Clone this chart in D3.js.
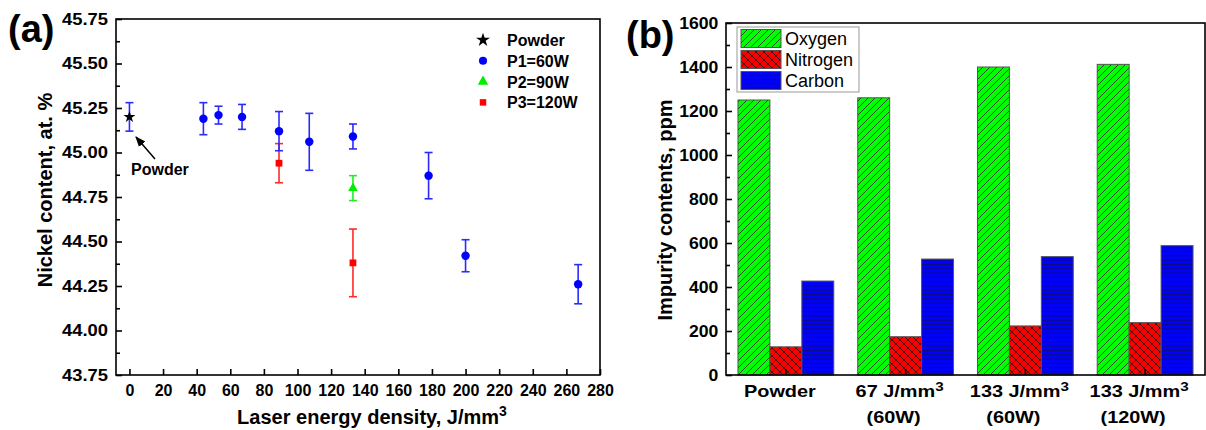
<!DOCTYPE html>
<html><head><meta charset="utf-8">
<script src="https://cdn.jsdelivr.net/npm/d3@7"></script>
<style>
body{margin:0;background:#fff;}
svg{display:block;font-family:"Liberation Sans",Arial,Helvetica,sans-serif;}
</style></head><body>
<svg id="chart" width="1206" height="430"></svg>
<script>
// ---------- Panel (a) data ----------
const xTicksA = [0,20,40,60,80,100,120,140,160,180,200,220,240,260,280];
const yTicksA = [43.75,44.00,44.25,44.50,44.75,45.00,45.25,45.50,45.75];

const powderX  = [0];
const powderY  = [45.20];
const powderLo = [45.12];
const powderHi = [45.28];

const p1X  = [44, 53, 67, 89, 107, 133, 178, 200, 267];
const p1Y  = [45.19, 45.21, 45.20, 45.12, 45.06, 45.09, 44.87, 44.42, 44.26];
const p1Lo = [45.10, 45.16, 45.13, 45.01, 44.90, 45.02, 44.74, 44.33, 44.15];
const p1Hi = [45.28, 45.26, 45.27, 45.23, 45.22, 45.16, 45.00, 44.51, 44.37];

const p2X  = [133];
const p2Y  = [44.80];
const p2Lo = [44.73];
const p2Hi = [44.87];

const p3X  = [89, 133];
const p3Y  = [44.94, 44.38];
const p3Lo = [44.83, 44.19];
const p3Hi = [45.05, 44.57];

const legendA = ["Powder", "P1=60W", "P2=90W", "P3=120W"];

// ---------- Panel (b) data ----------
const catLine1 = ["Powder", "67 J/mm", "133 J/mm", "133 J/mm"];
const catSup   = ["", "3", "3", "3"];
const catLine2 = ["", "(60W)", "(60W)", "(120W)"];
const elements = ["Oxygen", "Nitrogen", "Carbon"];
const oxygen   = [1250, 1260, 1400, 1412];
const nitrogen = [128, 174, 223, 238];
const carbon   = [427, 527, 538, 588];
const yTicksB  = [0,200,400,600,800,1000,1200,1400,1600];

// ---------- setup ----------
const svg = d3.select("#chart");
const defs = svg.append("defs");

const pg = defs.append("pattern").attr("id","hatchG").attr("patternUnits","userSpaceOnUse")
  .attr("width",7).attr("height",7);
pg.append("path").attr("d","M-1,1 l2,-2 M0,7 l7,-7 M6,8 l2,-2")
  .attr("stroke","#1e3a1e").attr("stroke-width",0.9).attr("fill","none");
const pr = defs.append("pattern").attr("id","crossR").attr("patternUnits","userSpaceOnUse")
  .attr("width",8).attr("height",8);
pr.append("path").attr("d","M0,0 L8,8 M8,0 L0,8")
  .attr("stroke","#3a1010").attr("stroke-width",0.9).attr("fill","none");
const pb = defs.append("pattern").attr("id","horizB").attr("patternUnits","userSpaceOnUse")
  .attr("width",6).attr("height",4.3);
pb.append("path").attr("d","M0,2 H6")
  .attr("stroke","#10104a").attr("stroke-width",0.8).attr("fill","none");

const A = {l:116, r:600, t:19, b:375};
const B = {l:726, r:1205, t:23, b:375};

// ---------- Panel (a) ----------
const xA = d3.scaleLinear().domain([-8, 280]).range([A.l, A.r]);
const yA = d3.scaleLinear().domain([43.75, 45.75]).range([A.b, A.t]);
const gA = svg.append("g");

const minorYA = d3.pairs(yTicksA).map(p => (p[0]+p[1])/2);

function styleAxis(g){
  g.select(".domain").remove();
  g.selectAll(".tick line").attr("stroke","#000").attr("stroke-width",1.6);
  g.selectAll("text").attr("fill","#000");
}

gA.append("g").attr("transform",`translate(${A.l},0)`)
  .call(d3.axisLeft(yA).tickValues(minorYA).tickSize(-4).tickFormat(""))
  .call(styleAxis);
const yAxA = gA.append("g").attr("transform",`translate(${A.l},0)`)
  .call(d3.axisLeft(yA).tickValues(yTicksA).tickSize(-6).tickPadding(7).tickFormat(d3.format(".2f")))
  .call(styleAxis);
yAxA.selectAll("text").attr("font-size",16).attr("font-weight","bold")
  .attr("transform","scale(1.15,1)");

const xAxA = gA.append("g").attr("transform",`translate(0,${A.b})`)
  .call(d3.axisBottom(xA).tickValues(xTicksA).tickSize(-6).tickPadding(10).tickFormat(d3.format("d")))
  .call(styleAxis);
xAxA.selectAll("text").attr("font-size",16).attr("font-weight","bold");

gA.append("rect").attr("x",A.l).attr("y",A.t).attr("width",A.r-A.l).attr("height",A.b-A.t)
  .attr("fill","none").attr("stroke","#000").attr("stroke-width",1.6);

function series(xs, ys, lo, hi, color, barColor, symbol, size){
  const g = gA.append("g");
  const idx = d3.range(xs.length);
  const eb = g.append("g").attr("stroke", barColor).attr("stroke-width",1.6);
  idx.forEach(i => {
    const x = xA(xs[i]);
    eb.append("line").attr("x1",x).attr("x2",x).attr("y1",yA(lo[i])).attr("y2",yA(hi[i]));
    eb.append("line").attr("x1",x-4).attr("x2",x+4).attr("y1",yA(lo[i])).attr("y2",yA(lo[i]));
    eb.append("line").attr("x1",x-4).attr("x2",x+4).attr("y1",yA(hi[i])).attr("y2",yA(hi[i]));
  });
  g.selectAll(null).data(idx).join("path")
    .attr("transform", i => `translate(${xA(xs[i])},${yA(ys[i])})`)
    .attr("d", d3.symbol(symbol, size))
    .attr("fill", color);
}
series(p3X, p3Y, p3Lo, p3Hi, "#ff0000", "#ff2a2a", d3.symbolSquare, 46);
series(p2X, p2Y, p2Lo, p2Hi, "#00ee00", "#22ee22", d3.symbolTriangle, 40);
series(p1X, p1Y, p1Lo, p1Hi, "#0000ff", "#2a2aff", d3.symbolCircle, 56);
series(powderX, powderY, powderLo, powderHi, "#000", "#2a2aff", d3.symbolStar, 44);

// legend (a)
const legSyms = [[d3.symbolStar,60,"#000"],[d3.symbolCircle,52,"#0000ff"],[d3.symbolTriangle,48,"#00ee00"],[d3.symbolSquare,42,"#ff0000"]];
legendA.forEach((t,i) => {
  const y = 40 + i*20.8;
  gA.append("path").attr("transform",`translate(483,${y})`)
    .attr("d", d3.symbol(legSyms[i][0], legSyms[i][1])).attr("fill", legSyms[i][2]);
  gA.append("text").attr("x",507).attr("y",y+6).attr("font-size",16).attr("font-weight","bold").text(t);
});

// annotation
defs.append("marker").attr("id","arr").attr("viewBox","0 0 10 10").attr("refX",9).attr("refY",5)
  .attr("markerWidth",7).attr("markerHeight",7).attr("orient","auto")
  .append("path").attr("d","M0,1 L10,5 L0,9 Z").attr("fill","#000");
gA.append("line").attr("x1",155).attr("y1",159).attr("x2",136).attr("y2",137)
  .attr("stroke","#000").attr("stroke-width",1.5).attr("marker-end","url(#arr)");
gA.append("text").attr("x",131).attr("y",175).attr("font-size",16).attr("font-weight","bold").text("Powder");

// titles (a)
gA.append("text").attr("transform","translate(52,190) rotate(-90)").attr("text-anchor","middle")
  .attr("font-size",20).attr("font-weight","bold").text("Nickel content, at. %");
const xtA = gA.append("text").attr("x",372).attr("y",424).attr("text-anchor","middle")
  .attr("font-size",20).attr("font-weight","bold");
xtA.append("tspan").text("Laser energy density, J/mm");
xtA.append("tspan").attr("font-size",14).attr("dy",-8).text("3");
gA.append("text").attr("x",8).attr("y",42).attr("font-size",38).attr("font-weight","bold").text("(a)");

// ---------- Panel (b) ----------
const gB = svg.append("g");
const xB = d3.scaleBand().domain(d3.range(catLine1.length)).range([B.l, B.r]).paddingInner(0.2).paddingOuter(0.1);
const sub = d3.scaleBand().domain(elements).range([0, xB.bandwidth()]);
const yB = d3.scaleLinear().domain([0,1600]).range([B.b, B.t]);
const minorYB = d3.pairs(yTicksB).map(p => (p[0]+p[1])/2);

gB.append("g").attr("transform",`translate(${B.l},0)`)
  .call(d3.axisLeft(yB).tickValues(minorYB).tickSize(-4).tickFormat(""))
  .call(styleAxis);
const yAxB = gB.append("g").attr("transform",`translate(${B.l},0)`)
  .call(d3.axisLeft(yB).tickValues(yTicksB).tickSize(-6).tickPadding(7).tickFormat(d3.format("d")))
  .call(styleAxis);
yAxB.selectAll("text").attr("font-size",16).attr("font-weight","bold").attr("transform","scale(1.1,1)");

const series3 = [oxygen, nitrogen, carbon];
const baseCol = ["#00ff00","#ff0000","#0000ff"];
const pat = ["url(#hatchG)","url(#crossR)","url(#horizB)"];

elements.forEach((el, k) => {
  const vals = series3[k];
  const g = gB.append("g");
  g.selectAll(null).data(vals).join("rect")
    .attr("x",(d,i)=>xB(i)+sub(el)).attr("width",sub.bandwidth())
    .attr("y",d=>yB(d)).attr("height",d=>yB(0)-yB(d)).attr("fill",baseCol[k]);
  g.selectAll(null).data(vals).join("rect")
    .attr("x",(d,i)=>xB(i)+sub(el)).attr("width",sub.bandwidth())
    .attr("y",d=>yB(d)).attr("height",d=>yB(0)-yB(d)).attr("fill",pat[k])
    .attr("stroke","#555").attr("stroke-width",1);
});

const xAxB = gB.append("g").attr("transform",`translate(0,${B.b})`)
  .call(d3.axisBottom(xB).tickSize(-6).tickFormat(""))
  .call(styleAxis);
xAxB.selectAll(".tick").attr("transform", d => `translate(${xB(d)+xB.bandwidth()/2},0)`);

gB.append("rect").attr("x",B.l).attr("y",B.t).attr("width",B.r-B.l).attr("height",B.b-B.t)
  .attr("fill","none").attr("stroke","#000").attr("stroke-width",1.6);

catLine1.forEach((t,i) => {
  const cx = xB(i) + xB.bandwidth()/2;
  const t1 = gB.append("text").attr("transform",`translate(${cx-6},397) scale(1.17,1)`)
    .attr("text-anchor","middle").attr("font-size",17).attr("font-weight","bold");
  t1.append("tspan").text(t);
  if (catSup[i]) t1.append("tspan").attr("font-size",13).attr("dy",-6).text(catSup[i]);
  if (catLine2[i]) gB.append("text").attr("transform",`translate(${cx-12},423) scale(1.17,1)`)
    .attr("text-anchor","middle").attr("font-size",17).attr("font-weight","bold").text(catLine2[i]);
});

// legend (b)
gB.append("rect").attr("x",737).attr("y",27).attr("width",122).attr("height",65)
  .attr("fill","#fff").attr("stroke","#999").attr("stroke-width",1);
elements.forEach((el,k) => {
  const y = 29.5 + k*21;
  gB.append("rect").attr("x",741).attr("y",y).attr("width",40).attr("height",18).attr("fill",baseCol[k]);
  gB.append("rect").attr("x",741).attr("y",y).attr("width",40).attr("height",18).attr("fill",pat[k])
    .attr("stroke","#555").attr("stroke-width",1);
  gB.append("text").attr("x",785).attr("y",y+15.5).attr("font-size",18).text(el);
});

gB.append("text").attr("transform","translate(672,210) rotate(-90)").attr("text-anchor","middle")
  .attr("font-size",20).attr("font-weight","bold").text("Impurity contents, ppm");
gB.append("text").attr("x",626).attr("y",48).attr("font-size",38).attr("font-weight","bold").text("(b)");
</script>
</body></html>
